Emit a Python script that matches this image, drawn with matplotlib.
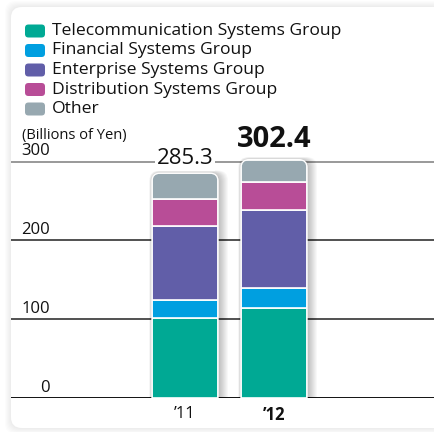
import matplotlib
matplotlib.use('Agg')
import matplotlib.pyplot as plt
from matplotlib.patches import FancyBboxPatch, Rectangle
import matplotlib.transforms as mtransforms

plt.rcParams['font.family'] = ['Open Sans', 'DejaVu Sans']

# Net sales by segment (billions of yen)
years = ['\u201911', '\u201912']
groups = ['Telecommunication Systems Group', 'Financial Systems Group',
          'Enterprise Systems Group', 'Distribution Systems Group', 'Other']
colors = ['#00A994', '#009FE0', '#615EA8', '#B84D97', '#97A8B0']
telecom = [101.3, 114.7]
financial = [23.1, 25.2]
enterprise = [93.4, 98.1]
distribution = [35.3, 35.8]
other = [32.2, 28.6]
totals = [285.3, 302.4]
yticks = [0, 100, 200, 300]

W, H = 435, 432
fig = plt.figure(figsize=(W / 100, H / 100), dpi=100)
fig.patch.set_facecolor('white')

# rounded white panel with a soft shadow
for k in range(6, 0, -1):
    fig.patches.append(FancyBboxPatch(
        ((11 - k) / W, (H - 428 - k) / H), (440 - 11 + 2 * k) / W, (428 - 7 + 2 * k) / H,
        boxstyle='round,pad=0,rounding_size=0.025', transform=fig.transFigure,
        facecolor='#000000', alpha=0.012, edgecolor='none', zorder=0))
fig.patches.append(FancyBboxPatch(
    (11 / W, (H - 428) / H), 440 / W, (428 - 7) / H,
    boxstyle='round,pad=0,rounding_size=0.025', transform=fig.transFigure,
    facecolor='white', edgecolor='none', zorder=1))

# axes: baseline at y=398 px, 0.788 px per billion yen
ax_left, ax_bottom_px, ax_top_px = 11, 398, 120
ax = fig.add_axes([ax_left / W, 1 - ax_bottom_px / H, (W - ax_left) / W,
                   (ax_bottom_px - ax_top_px) / H])
ax.set_facecolor('none')
ax.set_zorder(2)
px_per_unit = 0.788
ax.set_ylim(0, (ax_bottom_px - ax_top_px) / px_per_unit)
px_per_x = 89
ax.set_xlim((ax_left - 185) / px_per_x, (W - 185) / px_per_x)
for s in ax.spines.values():
    s.set_visible(False)
ax.set_xticks([])
ax.set_yticks([])

# grid lines and their labels
grid_colors = ['#111111', '#333333', '#333333', '#888888']
lbl = mtransforms.blended_transform_factory(ax.transAxes, ax.transData)
for t, gc in zip(yticks, grid_colors):
    ax.axhline(t, color=gc, lw=1.4 if t == 0 else 1.2, zorder=1)
    ax.text((50 - ax_left) / (W - ax_left), t + 3, str(t), transform=lbl,
            ha='right', va='bottom', fontsize=12, color='#111111')

fig.text(22 / W, 1 - 136 / H, '(Billions of Yen)', fontsize=10.5,
         color='#111111', va='center', ha='left')

x = [0, 1]
bw = 66 / px_per_x
series = [telecom, financial, enterprise, distribution, other]
ux = 1 / px_per_x
uy = 1 / px_per_unit

for i in x:
    top = totals[i]
    # drop shadow, mostly to the right of each bar
    for k in range(1, 10):
        sh = FancyBboxPatch((i - bw / 2 - 0.3 * k * ux, -20),
                            bw + (1.3 * k + 1) * ux, top + 20 + 0.3 * k * uy,
                            boxstyle='round,pad=0,rounding_size=%f' % (10 * ux),
                            mutation_aspect=uy / ux, facecolor='#000000',
                            alpha=0.028, edgecolor='none', zorder=2)
        ax.add_patch(sh)
    clip = FancyBboxPatch((i - bw / 2, -20), bw, top + 20,
                          boxstyle='round,pad=0,rounding_size=%f' % (8 * ux),
                          mutation_aspect=uy / ux, facecolor='none',
                          edgecolor='none', transform=ax.transData)
    ax.add_patch(clip)
    bottom = 0
    for vals, c in zip(series, colors):
        r = Rectangle((i - bw / 2, bottom), bw, vals[i], facecolor=c,
                      edgecolor='white', lw=1.2, zorder=3)
        ax.add_patch(r)
        r.set_clip_path(clip)
        bottom += vals[i]
    ax.add_patch(FancyBboxPatch((i - bw / 2, -20), bw, top + 20,
                                boxstyle='round,pad=0,rounding_size=%f' % (8 * ux),
                                mutation_aspect=uy / ux, facecolor='none',
                                edgecolor='white', lw=1.0, zorder=4))

# total labels
ax.text(0, totals[0] + 4 * uy, '%.1f' % totals[0], ha='center', va='bottom',
        fontsize=16, color='#111111', zorder=5,
        bbox=dict(facecolor='white', edgecolor='none', pad=1.5))
ax.text(1, totals[1] + 6 * uy, '%.1f' % totals[1], ha='center', va='bottom',
        fontsize=21, fontweight='bold', color='#111111', zorder=5)

# year labels
for i, yr in zip(x, years):
    ax.text(i, -8 * uy, yr, ha='center', va='top', fontsize=12,
            fontweight='bold' if i == 1 else 'normal', color='#111111',
            clip_on=False)

# legend
for k, (g, c) in enumerate(zip(groups, colors)):
    yc = 1 - (31 + 19.5 * k) / H
    fig.patches.append(FancyBboxPatch((25 / W, yc - 6.5 / H), 20 / W, 13 / H,
                                      boxstyle='round,pad=0,rounding_size=0.008',
                                      transform=fig.transFigure, facecolor=c,
                                      edgecolor='none', zorder=3))
    fig.text(52 / W, yc, g, fontsize=12.6, color='#111111', va='center',
             ha='left', zorder=4)

fig.savefig('out.png', dpi=100)
